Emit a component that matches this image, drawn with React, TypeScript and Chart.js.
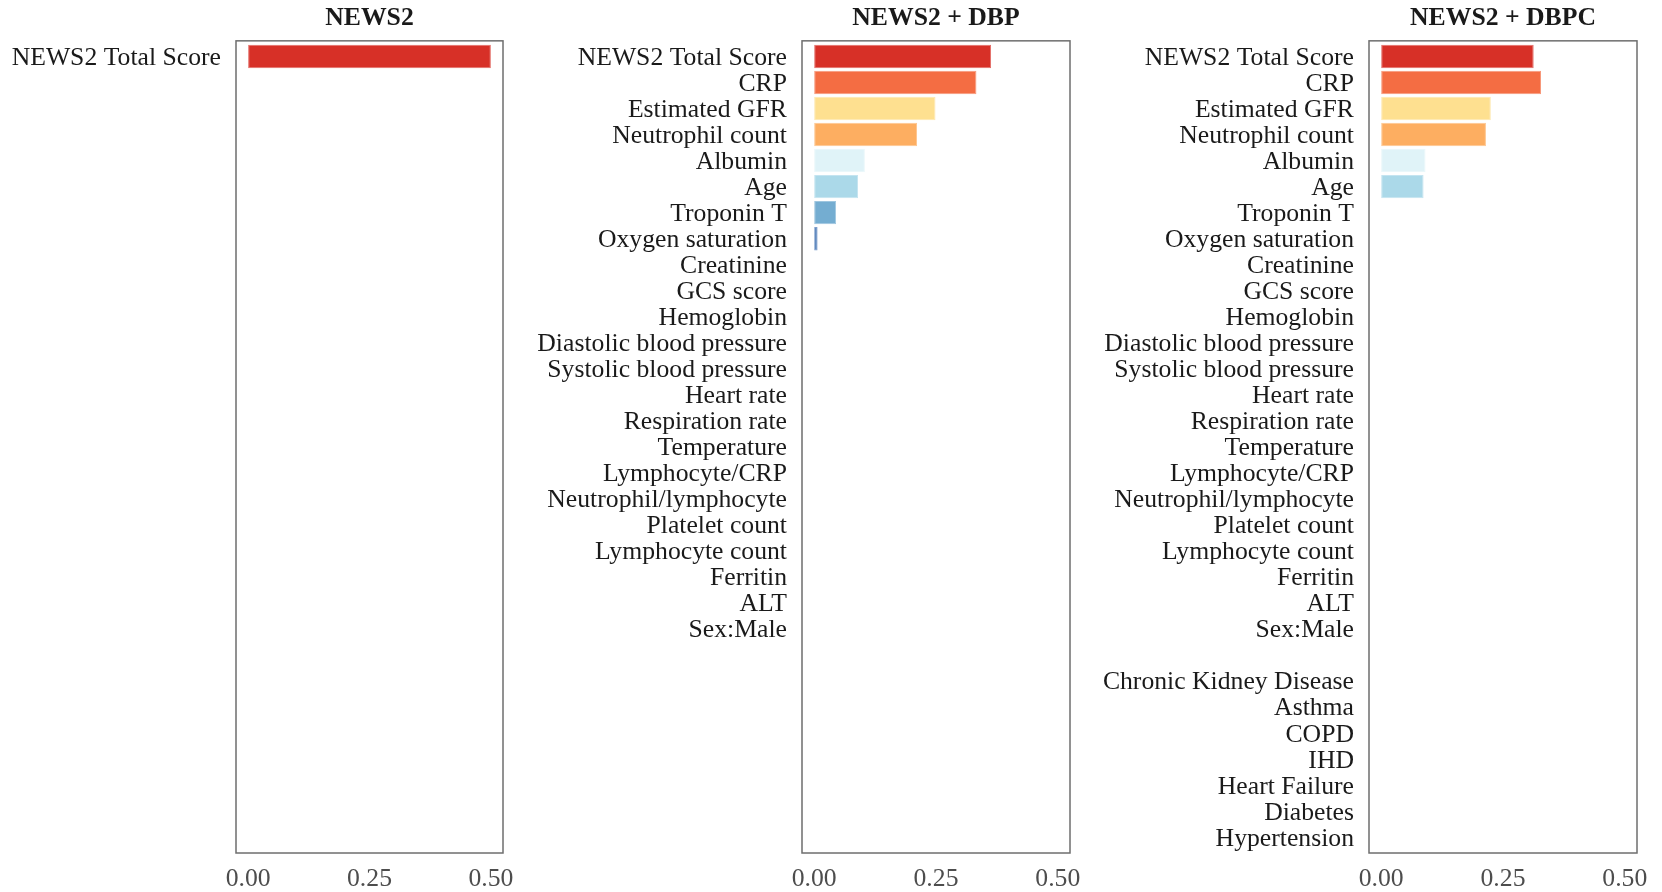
import React, { useEffect, useRef } from "react";
import { Chart, registerables } from "chart.js";

Chart.register(...registerables);

// ---------- data ----------
const variables = [
  "NEWS2 Total Score", "CRP", "Estimated GFR", "Neutrophil count", "Albumin", "Age",
  "Troponin T", "Oxygen saturation", "Creatinine", "GCS score", "Hemoglobin",
  "Diastolic blood pressure", "Systolic blood pressure", "Heart rate", "Respiration rate",
  "Temperature", "Lymphocyte/CRP", "Neutrophil/lymphocyte", "Platelet count",
  "Lymphocyte count", "Ferritin", "ALT", "Sex:Male", "",
  "Chronic Kidney Disease", "Asthma", "COPD", "IHD", "Heart Failure", "Diabetes", "Hypertension",
];

const news2Labels = ["NEWS2 Total Score"];
const news2Values = [0.5];

const dbpLabels = [
  "NEWS2 Total Score", "CRP", "Estimated GFR", "Neutrophil count", "Albumin", "Age",
  "Troponin T", "Oxygen saturation", "Creatinine", "GCS score", "Hemoglobin",
  "Diastolic blood pressure", "Systolic blood pressure", "Heart rate", "Respiration rate",
  "Temperature", "Lymphocyte/CRP", "Neutrophil/lymphocyte", "Platelet count",
  "Lymphocyte count", "Ferritin", "ALT", "Sex:Male",
];
const dbpValues = [
  0.363, 0.333, 0.249, 0.211, 0.104, 0.090, 0.045, 0.007, 0, 0, 0,
  0, 0, 0, 0, 0, 0, 0, 0, 0, 0, 0, 0,
];

const dbpcLabels = variables;
const dbpcValues = [
  0.313, 0.328, 0.225, 0.215, 0.091, 0.087, 0, 0, 0, 0, 0,
  0, 0, 0, 0, 0, 0, 0, 0, 0, 0, 0, 0, null,
  0, 0, 0, 0, 0, 0, 0,
];

const panelTitles = ["NEWS2", "NEWS2 + DBP", "NEWS2 + DBPC"];
const xTickValues = [0, 0.25, 0.5];

const variableColors = [
  "#D73027", "#F46D43", "#FEE090", "#FDAE61", "#E0F3F8", "#ABD9E9", "#74ADD1", "#4575B4",
];

// ---------- styling / layout ----------
const SERIF = "'Liberation Serif', 'Times New Roman', serif";
const FONT_SIZE = 25.7;
const PAGE_H = 892;
const X_AXIS_H = 39;
const panelLayout = [
  { canvasLeft: 0, frameLeft: 236, frameRight: 503 },
  { canvasLeft: 520, frameLeft: 802, frameRight: 1070 },
  { canvasLeft: 1085, frameLeft: 1369, frameRight: 1637 },
];
const RIGHT_PAD = 24;

function lighten(hex: string, t: number) {
  const n = parseInt(hex.slice(1), 16);
  const r = (n >> 16) & 255, g = (n >> 8) & 255, b = n & 255;
  const m = (c: number) => Math.round(c + (255 - c) * t);
  return `rgb(${m(r)},${m(g)},${m(b)})`;
}

const framePlugin = {
  id: "frame",
  afterDraw(chart: any) {
    const { ctx, chartArea } = chart;
    ctx.save();
    ctx.strokeStyle = "#6e6e6e";
    ctx.lineWidth = 1.5;
    ctx.strokeRect(chartArea.left, chartArea.top, chartArea.right - chartArea.left, chartArea.bottom - chartArea.top);
    ctx.restore();
  },
};

function makeChart(
  canvas: HTMLCanvasElement,
  title: string,
  labels: string[],
  values: (number | null)[],
  layout: { canvasLeft: number; frameLeft: number; frameRight: number }
) {
  const points = values
    .map((v, i) => (v == null ? null : { x: v, y: i }))
    .filter((p): p is { x: number; y: number } => p !== null && p.x > 0);
  const colors = points.map((p) => variableColors[p.y] || "#999999");
  const n = variables.length;

  return new Chart(canvas, {
    type: "bar",
    data: {
      datasets: [
        {
          data: points as any,
          backgroundColor: colors,
          borderColor: colors.map((c) => lighten(c, 0.3)),
          borderWidth: 1,
          borderSkipped: false,
          barPercentage: 0.9,
          categoryPercentage: 1,
        },
      ],
    },
    options: {
      indexAxis: "y",
      responsive: false,
      animation: false,
      events: [],
      layout: { padding: { left: 0, right: RIGHT_PAD, top: 0, bottom: 0 } },
      plugins: {
        legend: { display: false },
        tooltip: { enabled: false },
        title: {
          display: true,
          text: title,
          fullSize: false,
          color: "#1a1a1a",
          font: { family: SERIF, size: FONT_SIZE, weight: "bold", lineHeight: 1.2 },
          padding: { top: 3, bottom: 7 },
        },
      },
      scales: {
        x: {
          type: "linear",
          min: -0.025,
          max: 0.525,
          offset: false,
          afterBuildTicks: (ax: any) => {
            ax.ticks = xTickValues.map((v) => ({ value: v }));
          },
          afterFit: (ax: any) => {
            ax.height = X_AXIS_H;
          },
          ticks: {
            callback: (v: any) => Number(v).toFixed(2),
            color: "#4d4d4d",
            font: { family: SERIF, size: FONT_SIZE, lineHeight: 1.2 },
            padding: 11,
            autoSkip: false,
            maxRotation: 0,
            minRotation: 0,
          },
          grid: { display: false, drawTicks: false },
          border: { display: false },
        },
        y: {
          type: "linear",
          reverse: true,
          offset: false,
          min: -0.6,
          max: n - 1 + 0.6,
          afterBuildTicks: (ax: any) => {
            ax.ticks = variables.map((_, i) => ({ value: i }));
          },
          afterFit: (ax: any) => {
            ax.width = layout.frameLeft - layout.canvasLeft;
          },
          ticks: {
            callback: (v: any) => labels[Number(v)] ?? "",
            color: "#1a1a1a",
            font: { family: SERIF, size: FONT_SIZE, lineHeight: 1.2 },
            padding: 15,
            labelOffset: 1.5,
            autoSkip: false,
          },
          grid: { display: false, drawTicks: false },
          border: { display: false },
        },
      },
    } as any,
    plugins: [framePlugin],
  });
}

function Panel({ index, labels, values }: { index: number; labels: string[]; values: (number | null)[] }) {
  const ref = useRef<HTMLCanvasElement | null>(null);
  const layout = panelLayout[index];
  const width = layout.frameRight + RIGHT_PAD - layout.canvasLeft;
  useEffect(() => {
    if (!ref.current) return;
    const chart = makeChart(ref.current, panelTitles[index], labels, values, layout);
    return () => chart.destroy();
  }, []);
  return (
    <canvas
      ref={ref}
      width={width}
      height={PAGE_H}
      style={{ position: "absolute", left: layout.canvasLeft, top: 0, width, height: PAGE_H }}
    />
  );
}

export default function App() {
  return (
    <div
      style={{
        position: "absolute",
        left: 0,
        top: 0,
        width: 1662,
        height: PAGE_H,
        overflow: "hidden",
        background: "#ffffff",
      }}
    >
      <Panel index={0} labels={news2Labels} values={news2Values} />
      <Panel index={1} labels={dbpLabels} values={dbpValues} />
      <Panel index={2} labels={dbpcLabels} values={dbpcValues} />
    </div>
  );
}
